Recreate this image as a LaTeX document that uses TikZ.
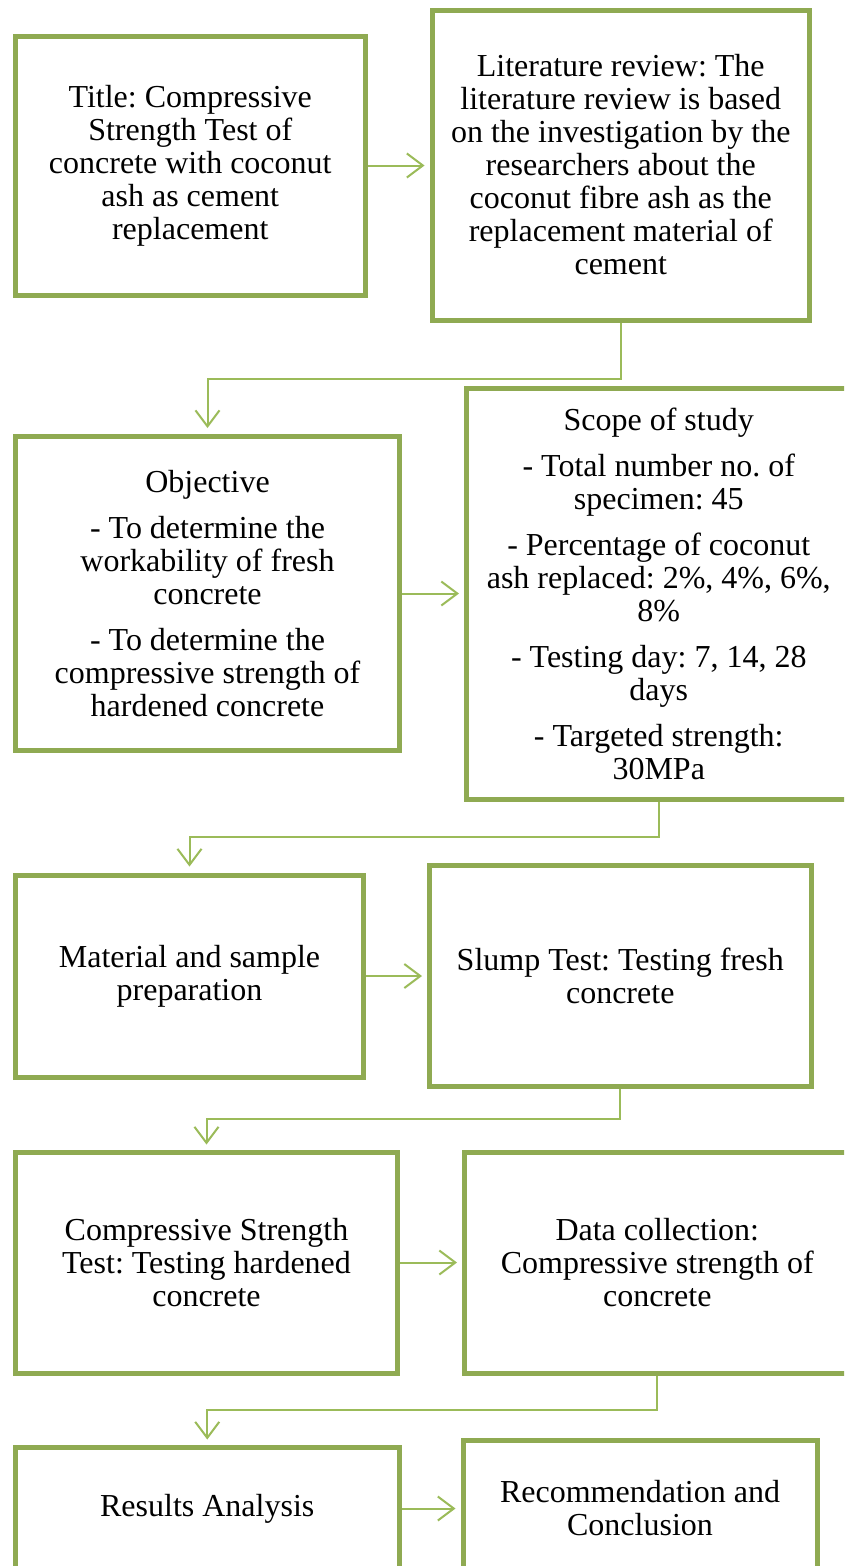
\documentclass[tikz,border=0pt]{standalone}
\usepackage{fontspec}
\setmainfont{Liberation Serif}
\usetikzlibrary{arrows.meta,calc}
\definecolor{boxgreen}{RGB}{143,170,82}
\definecolor{arrgreen}{RGB}{155,187,89}
\tikzset{
  box/.style={draw=boxgreen, line width=5pt, rectangle, inner sep=0pt, align=center,
    font=\fontsize{32}{33}\selectfont\frenchspacing},
  arr/.style={draw=arrgreen, line width=2pt, -{Straight Barb[length=16pt,width=24pt,line width=2pt]}}
}
\begin{document}
\begin{tikzpicture}[x=1pt,y=-1pt]
\useasboundingbox (0,0) rectangle (844,1566);
\clip (0,0) rectangle (844,1566);
\fill[white] (0,0) rectangle (844,1566);

\node[box, minimum width=349.5pt, minimum height=259pt] (title) at (190.25,165.5)
  {Title: Compressive\\Strength Test of\\concrete with coconut\\ash as cement\\replacement};
\node[box, minimum width=377.5pt, minimum height=310pt] (lit) at (620.75,165)
  {Literature review: The\\literature review is based\\on the investigation by the\\researchers about the\\coconut fibre ash as the\\replacement material of\\cement};
\node[box, minimum width=384pt, minimum height=314pt] (obj) at (207.5,593.5)
  {Objective\\[13pt]- To determine the\\workability of fresh\\concrete\\[13pt]- To determine the\\compressive strength of\\hardened concrete};
\node[box, minimum width=384.5pt, minimum height=411.5pt] (scope) at (658.75,593.75)
  {Scope of study\\[13pt]- Total number no. of\\specimen: 45\\[13pt]- Percentage of coconut\\ash replaced: 2\%, 4\%, 6\%,\\8\%\\[13pt]- Testing day: 7, 14, 28\\days\\[13pt]- Targeted strength:\\30MPa};
\node[box, minimum width=348pt, minimum height=202pt] (mat) at (189.5,976)
  {Material and sample\\preparation};
\node[box, minimum width=381.5pt, minimum height=221pt] (slump) at (620.25,976)
  {Slump Test: Testing fresh\\concrete};
\node[box, minimum width=382pt, minimum height=221pt] (comp) at (206.5,1262.5)
  {Compressive Strength\\Test: Testing hardened\\concrete};
\node[box, minimum width=385.5pt, minimum height=221pt] (data) at (657.25,1262.5)
  {Data collection:\\Compressive strength of\\concrete};
\node[box, minimum width=383.5pt, minimum height=123pt] (res) at (207.25,1508.5)
  {Results Analysis};
\node[box, minimum width=354pt, minimum height=136pt] (rec) at (640,1508)
  {Recommendation and\\Conclusion};

\coordinate (m1) at (207.5,379);
\coordinate (m2) at (189.5,837);
\coordinate (m3) at (206.5,1119);
\coordinate (m4) at (207.25,1410);

\draw[arr, shorten >=5pt] (title.east) -- (title.east -| lit.west);
\draw[arr, shorten >=5pt] (obj.east) -- (obj.east -| scope.west);
\draw[arr, shorten >=5pt] (mat.east) -- (mat.east -| slump.west);
\draw[arr, shorten >=5pt] (comp.east) -- (comp.east -| data.west);
\draw[arr, shorten >=5pt] (res.east) -- (res.east -| rec.west);

\draw[arr, shorten >=6pt] (lit.south) |- (m1) -- (obj.north);
\draw[arr, shorten >=6pt] (scope.south) |- (m2) -- (mat.north);
\draw[arr, shorten >=5pt] (slump.south) |- (m3) -- (comp.north);
\draw[arr, shorten >=5pt] (data.south) |- (m4) -- (res.north);
\end{tikzpicture}
\end{document}
